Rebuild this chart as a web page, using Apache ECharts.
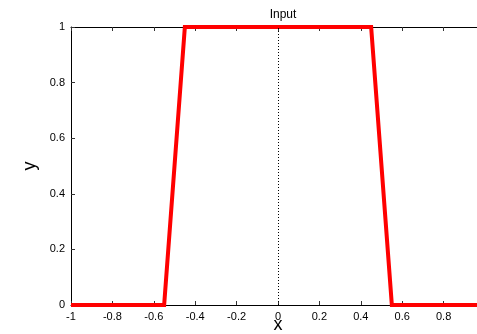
<!DOCTYPE html>
<html><head><meta charset="utf-8">
<script src="https://cdn.jsdelivr.net/npm/echarts@6/dist/echarts.min.js"></script>
<style>html,body{margin:0;padding:0;background:#fff}#c{width:477px;height:334px}</style>
</head><body><div id="c"></div>
<script>
const xValues = [-1, -0.55, -0.45, 0.45, 0.55, 1];
const yValues = [0, 0, 1, 1, 0, 0];
const xTicks = [-1, -0.8, -0.6, -0.4, -0.2, 0, 0.2, 0.4, 0.6, 0.8, 1];
const yTicks = [0, 0.2, 0.4, 0.6, 0.8, 1];
const titleText = 'Input';
const xName = 'x';
const yName = 'y';

const chart = echarts.init(document.getElementById('c'), null, {renderer: 'canvas'});
const fmt = v => String(Math.round(v * 10) / 10);
const font = 'Liberation Sans, Arial, sans-serif';
chart.setOption({
  animation: false,
  title: {text: titleText, left: 278, top: 4, textAlign: 'center',
    textStyle: {fontSize: 12, fontWeight: 'normal', color: '#000', fontFamily: font}},
  grid: {left: 71, top: 27, width: 414, height: 278, containLabel: false, outerBoundsMode: 'none'},
  xAxis: [{
    type: 'value', min: -1, max: 1, interval: 0.2, position: 'bottom',
    axisLine: {show: true, onZero: false, lineStyle: {color: '#000', width: 1}},
    axisTick: {show: true, inside: true, length: 4, lineStyle: {color: '#333'}},
    axisLabel: {formatter: fmt, fontSize: 11, color: '#000', margin: 6, fontFamily: font, hideOverlap: false},
    splitLine: {show: false},
    name: xName, nameLocation: 'middle', nameGap: 11, nameMoveOverlap: false,
    nameTextStyle: {fontSize: 18, color: '#000', fontFamily: font}
  }, {
    type: 'value', min: -1, max: 1, interval: 0.2, position: 'top',
    axisLine: {show: true, onZero: false, lineStyle: {color: '#000', width: 1}},
    axisTick: {show: true, inside: true, length: 4, lineStyle: {color: '#333'}},
    axisLabel: {show: false}, splitLine: {show: false}
  }],
  yAxis: [{
    type: 'value', min: 0, max: 1, interval: 0.2, position: 'left',
    axisLine: {show: true, onZero: false, lineStyle: {color: '#000', width: 1}},
    axisTick: {show: true, inside: true, length: 4, lineStyle: {color: '#333'}},
    axisLabel: {formatter: fmt, fontSize: 11, color: '#000', margin: 6, fontFamily: font},
    splitLine: {show: false},
    name: yName, nameLocation: 'middle', nameGap: 32, nameRotate: 90, nameMoveOverlap: false,
    nameTextStyle: {fontSize: 18, color: '#000', fontFamily: font}
  }],
  series: [{
    type: 'line', xAxisIndex: 0, yAxisIndex: 0,
    data: xValues.map((x, i) => [x, yValues[i]]),
    symbol: 'none', clip: false,
    lineStyle: {color: '#ff0000', width: 4, join: 'miter'},
    markLine: {silent: true, symbol: 'none', label: {show: false},
      lineStyle: {color: '#000', type: [1, 2], width: 1},
      data: [{xAxis: 0}]},
    z: 3
  }]
});
</script></body></html>
